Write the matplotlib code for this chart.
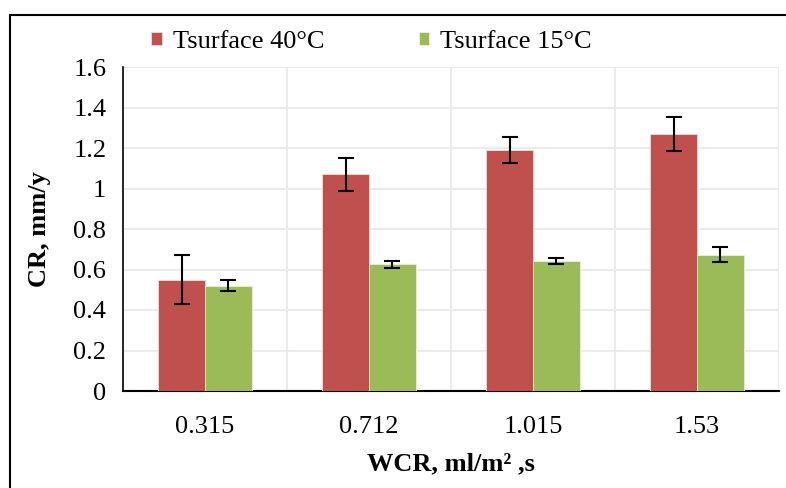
import matplotlib
matplotlib.use("Agg")
import matplotlib.pyplot as plt
import numpy as np
from matplotlib.patches import Rectangle

categories = ["0.315", "0.712", "1.015", "1.53"]
cr_40 = [0.55, 1.07, 1.19, 1.27]
err_40 = [0.12, 0.08, 0.064, 0.085]
cr_15 = [0.52, 0.625, 0.642, 0.672]
err_15 = [0.026, 0.018, 0.016, 0.037]
series_names = ["Tsurface 40°C", "Tsurface 15°C"]
yticks = [0, 0.2, 0.4, 0.6, 0.8, 1.0, 1.2, 1.4, 1.6]
ytick_labels = ["0", "0.2", "0.4", "0.6", "0.8", "1", "1.2", "1.4", "1.6"]

plt.rcParams['font.family'] = ['Liberation Serif', 'DejaVu Serif']

fig = plt.figure(figsize=(7.86, 4.88), dpi=100)
ax = fig.add_axes([123/786, 1 - 391/488, (779-123)/786, (391-67)/488])

x = np.arange(len(categories))
w = 1 / 3.5
red = "#C0504D"
green = "#9BBB59"
b1 = ax.bar(x - w/2, cr_40, w, color=red, edgecolor="#F2DCDB", linewidth=0.6, zorder=3, label=series_names[0])
b2 = ax.bar(x + w/2, cr_15, w, color=green, edgecolor="#EBF1DE", linewidth=0.6, zorder=3, label=series_names[1])
ax.errorbar(x - w/2, cr_40, yerr=err_40, fmt="none", ecolor="black", elinewidth=1.5, capsize=5.5, capthick=1.5, zorder=4)
ax.errorbar(x + w/2, cr_15, yerr=err_15, fmt="none", ecolor="black", elinewidth=1.5, capsize=5.5, capthick=1.5, zorder=4)

ax.set_xlim(-0.5, 3.5)
ax.set_ylim(0, 1.6)
ax.set_yticks(yticks)
ax.set_yticklabels(ytick_labels)
ax.set_xticks(x)
ax.set_xticklabels(categories)
ax.set_xticks([0.5, 1.5, 2.5, 3.5], minor=True)
ax.tick_params(axis="both", which="both", length=0, labelsize=19)
ax.tick_params(axis="x", pad=18)
ax.tick_params(axis="y", pad=12)
ax.yaxis.grid(True, color="#EBEBEB", linewidth=1.5, zorder=0)
ax.xaxis.grid(True, which="minor", color="#EBEBEB", linewidth=1.5, zorder=0)
for s in ["top", "right"]:
    ax.spines[s].set_visible(False)
ax.spines["left"].set_color("black")
ax.spines["bottom"].set_color("black")
ax.spines["left"].set_linewidth(1.2)
ax.spines["bottom"].set_linewidth(1.5)
ax.set_axisbelow(True)

ax.set_xlabel("WCR, ml/m² ,s", fontsize=19, fontweight="bold", labelpad=10)
ax.set_ylabel("CR, mm/y", fontsize=19, fontweight="bold", labelpad=16)

fig.legend(handles=[b1, b2], labels=series_names, loc="center", bbox_to_anchor=(0.473, 1 - 42/488),
           ncol=2, frameon=False, fontsize=19, handlelength=0.38, handleheight=0.38,
           handletextpad=0.45, columnspacing=3.55)

fig.patches.append(Rectangle((10/786, -0.1), 2, 1.1 - 15/488, transform=fig.transFigure,
                             fill=False, edgecolor="black", linewidth=1.5))

fig.savefig("out.png", dpi=100)
